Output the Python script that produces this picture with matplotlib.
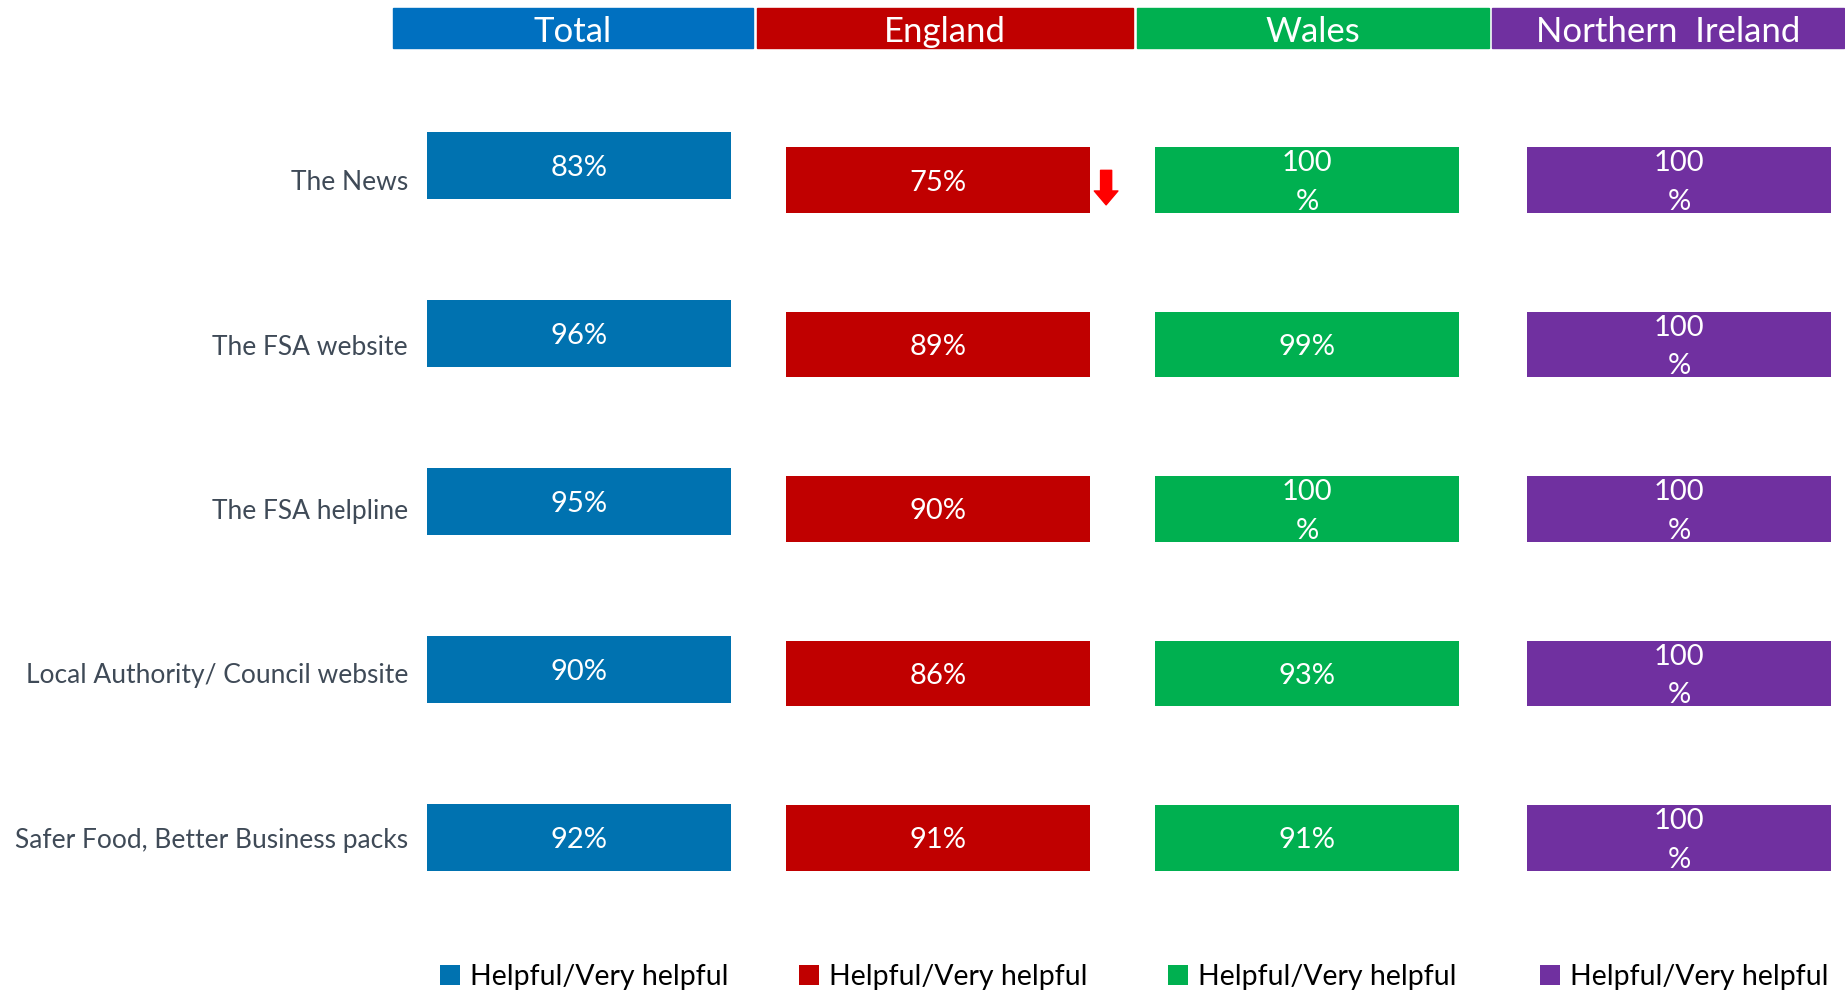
import matplotlib.pyplot as plt
from matplotlib.patches import Rectangle
from matplotlib.transforms import blended_transform_factory

# data (% helpful / very helpful)
categories = ["The News", "The FSA website", "The FSA helpline",
              "Local Authority/ Council website", "Safer Food, Better Business packs"]
nations = ["Total", "England", "Wales", "Northern  Ireland"]
total = [83, 96, 95, 90, 92]
england = [75, 89, 90, 86, 91]
wales = [100, 99, 100, 93, 91]
northern_ireland = [100, 100, 100, 100, 100]
england_sig_down = [True, False, False, False, False]
legend_label = "Helpful/Very helpful"

header_colors = ["#0070C0", "#C00000", "#00B050", "#7030A0"]
bar_colors = ["#0072B0", "#C00000", "#00B050", "#7030A0"]

plt.rcParams['font.family'] = ['Lato', 'DejaVu Sans']

W, H = 1845, 994
fig = plt.figure(figsize=(W / 100, H / 100), dpi=100)


def fx(px):
    return px / W


def fy(px):
    return 1 - px / H


# header strips (pixel extents)
headers = [(393, 753), (757, 1133), (1137, 1489), (1492, 1844)]
for (x0, x1), name, col in zip(headers, nations, header_colors):
    fig.patches.append(Rectangle((fx(x0), fy(48)), fx(x1 - x0), 40 / H,
                                 transform=fig.transFigure, color=col))
    fig.text(fx((x0 + x1) / 2), fy(32), name, color="white", fontsize=25,
             ha="center", va="center")

# panel axes: left, top, bottom in pixels
panels = [(427, 82, 921), (786, 98, 920), (1155, 98, 920), (1527, 98, 920)]
series = [total, england, wales, northern_ireland]
legend_x = [440, 799, 1168, 1540]
xmax = 75  # axis max below the values, so every bar is clipped to the same length

axes = []
for (left, top, bottom), vals, col, lx in zip(panels, series, bar_colors, legend_x):
    ax = fig.add_axes([fx(left), fy(bottom), 304 / W, (bottom - top) / H])
    bars = ax.barh(range(len(vals)), vals, height=0.4, color=col)
    ax.set_xlim(0, xmax)
    ax.set_ylim(len(vals) - 0.5, -0.5)
    ax.axis("off")
    for i, v in enumerate(vals):
        label = f"{v}%" if v < 100 else "100\n%"
        ax.text(min(v, xmax) / 2, i + 0.015, label,
                color="white", fontsize=21, ha="center", va="center",
                linespacing=1.6)
    fig.legend(handles=[bars.patches[0]], labels=[legend_label],
               loc="center left", bbox_to_anchor=(fx(lx), fy(977)),
               frameon=False, fontsize=20.5, handlelength=0.7, handleheight=0.7,
               handletextpad=0.35, borderpad=0, borderaxespad=0)
    axes.append(ax)

# category labels line up with the England rows
ax_eng = axes[1]
trans = blended_transform_factory(fig.transFigure, ax_eng.transData)
for i, cat in enumerate(categories):
    ax_eng.text(fx(408), i + 0.015, cat, transform=trans, ha="right", va="center",
                fontsize=19, color="#3F4A57")

# significant decrease marker
for i, flag in enumerate(england_sig_down):
    if flag:
        ax_eng.annotate("", xy=(1.053, i + 0.15), xytext=(1.053, i - 0.06),
                        xycoords=("axes fraction", "data"),
                        arrowprops=dict(arrowstyle="simple,head_length=0.5,head_width=0.85,tail_width=0.4",
                                        color="#FF0000", mutation_scale=20,
                                        shrinkA=0, shrinkB=0),
                        annotation_clip=False)

fig.savefig("out.png", dpi=100)
